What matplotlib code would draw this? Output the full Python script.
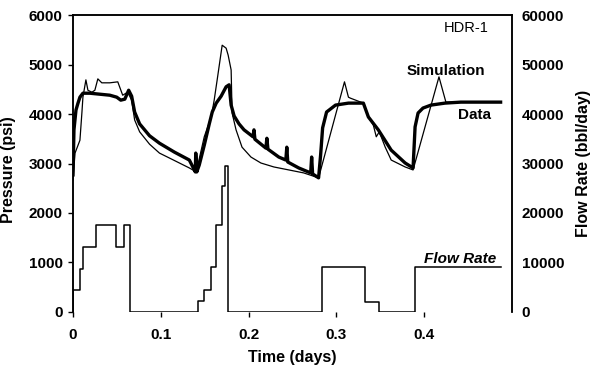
import matplotlib
matplotlib.use('Agg')
import matplotlib.pyplot as plt

# pressure data (thick line) - time in days, pressure in psi
data_t = [0, 0.0011, 0.0034, 0.0057, 0.0079, 0.0113, 0.0193, 0.0306, 0.0419, 0.0498, 0.0544,
          0.059, 0.0634, 0.0668, 0.0702, 0.0759, 0.0872, 0.0985, 0.1155, 0.1325, 0.1382, 0.1393,
          0.1398, 0.141, 0.1438, 0.1495, 0.1552, 0.1586, 0.1631, 0.1687, 0.1744, 0.1778, 0.1801,
          0.1835, 0.1891, 0.1948, 0.205, 0.2061, 0.2072, 0.2197, 0.2208, 0.222, 0.2344, 0.2424,
          0.2435, 0.2446, 0.2571, 0.2707, 0.2718, 0.2729, 0.2797, 0.282, 0.2843, 0.2888, 0.299,
          0.3137, 0.3307, 0.3364, 0.3477, 0.3624, 0.3783, 0.3873, 0.3896, 0.393, 0.3986, 0.4077,
          0.4236, 0.4417, 0.487]
data_p = [2770, 3680, 4080, 4220, 4340, 4420, 4420, 4400, 4380, 4340, 4280,
          4300, 4480, 4360, 4040, 3800, 3560, 3410, 3230, 3070, 2870, 2830,
          3210, 2830, 2970, 3370, 3800, 4040, 4220, 4360, 4550, 4590, 4180,
          3960, 3800, 3680, 3540, 3680, 3490, 3310, 3510, 3290, 3130, 3070,
          3330, 3030, 2910, 2810, 3130, 2790, 2710, 3170, 3720, 4040, 4180,
          4220, 4220, 3940, 3680, 3270, 3010, 2910, 3740, 4020, 4120, 4180,
          4220, 4240, 4240]

# simulated pressure (thin line)
sim_t = [0, 0.0023, 0.0079, 0.0102, 0.0113, 0.0147, 0.017, 0.0215, 0.0249, 0.0283, 0.0328,
         0.0419, 0.051, 0.0566, 0.0623, 0.0668, 0.0702, 0.0759, 0.0872, 0.0985, 0.1099, 0.1212,
         0.1325, 0.1404, 0.1427, 0.1495, 0.1574, 0.1608, 0.1642, 0.1699, 0.1744, 0.1767, 0.1801,
         0.1812, 0.1857, 0.1925, 0.2027, 0.214, 0.2288, 0.2458, 0.2627, 0.2797, 0.3092, 0.3137,
         0.316, 0.3307, 0.3364, 0.342, 0.3454, 0.3488, 0.3556, 0.3624, 0.3783, 0.3873, 0.4168,
         0.4247, 0.487]
sim_p = [2670, 3210, 3470, 4040, 4340, 4690, 4480, 4440, 4480, 4710, 4630,
         4630, 4650, 4380, 4440, 4280, 3880, 3640, 3390, 3210, 3110, 3010,
         2910, 2830, 3010, 3540, 3940, 4280, 4690, 5390, 5330, 5190, 4890,
         4020, 3680, 3330, 3130, 3010, 2930, 2870, 2810, 2710, 4650, 4340,
         4320, 4220, 3940, 3780, 3540, 3640, 3330, 3070, 2930, 2870, 4750,
         4240, 4240]

# flow rate steps (bbl/day), value holds until the next time
flow_t = [0, 0, 0.008, 0.011, 0.026, 0.049, 0.058, 0.065, 0.1427, 0.149, 0.1567, 0.1634,
          0.1695, 0.173, 0.177, 0.284, 0.332, 0.348, 0.389, 0.488]
flow_q = [0, 4500, 8600, 13200, 17500, 13200, 17500, 0, 2200, 4500, 9000, 17500,
          25500, 29400, 0, 9000, 2100, 0, 9000, 9000]

x_ticks = [0, 0.1, 0.2, 0.3, 0.4]
x_tick_labels = ['0', '0.1', '0.2', '0.3', '0.4']
p_ticks = [0, 1000, 2000, 3000, 4000, 5000, 6000]
q_ticks = [0, 10000, 20000, 30000, 40000, 50000, 60000]

plt.rcParams['font.family'] = ['Liberation Sans', 'DejaVu Sans']

fig = plt.figure(figsize=(5.92, 3.68), dpi=100)
ax = fig.add_axes([0.1233, 0.1522, 0.7416, 0.807])
ax2 = ax.twinx()

ax.plot(data_t, data_p, color='black', lw=2.4, solid_joinstyle='round')
ax.plot(sim_t, sim_p, color='black', lw=0.9)
ax2.plot(flow_t, flow_q, color='black', lw=1.1, drawstyle='steps-post')

ax.set_xlim(0, 0.5)
ax.set_ylim(0, 6000)
ax2.set_ylim(0, 60000)

ax.set_xticks(x_ticks)
ax.set_xticklabels(x_tick_labels, fontweight='bold', fontsize=11)
ax.set_yticks(p_ticks)
ax.set_yticklabels([str(v) for v in p_ticks], fontweight='bold', fontsize=11)
ax2.set_yticks(q_ticks)
ax2.set_yticklabels([str(v) for v in q_ticks], fontweight='bold', fontsize=11)

ax.tick_params(axis='x', direction='out', length=3.5, width=1, pad=8)
ax.tick_params(axis='y', direction='out', length=3.5, width=1, pad=4)
ax2.tick_params(axis='y', length=0, pad=7)

for a in (ax, ax2):
    a.spines['bottom'].set_visible(False)
    for s in ('left', 'right', 'top'):
        a.spines[s].set_linewidth(1.1)

ax.set_xlabel('Time (days)', fontweight='bold', fontsize=11.5, labelpad=6)
fig.text(0.015, 0.54, 'Pressure (psi)', rotation=90, ha='center', va='center',
         fontweight='bold', fontsize=11.5)
fig.text(0.985, 0.555, 'Flow Rate (bbl/day)', rotation=90, ha='center', va='center',
         fontweight='bold', fontsize=11.5)

# curve labels
ax.text(0.895, 0.955, 'HDR-1', fontsize=10.5, ha='center', va='center', transform=ax.transAxes)
ax.text(0.8500, 0.811, 'Simulation', fontsize=11, fontweight='bold', ha='center', va='center',
        transform=ax.transAxes)
ax.text(0.9134, 0.665, 'Data', fontsize=11, fontweight='bold', ha='center', va='center',
        transform=ax.transAxes)
ax.text(0.8815, 0.18, 'Flow Rate', fontsize=11, fontweight='bold', fontstyle='italic',
        ha='center', va='center', transform=ax.transAxes)

fig.savefig('out.png', dpi=100)
